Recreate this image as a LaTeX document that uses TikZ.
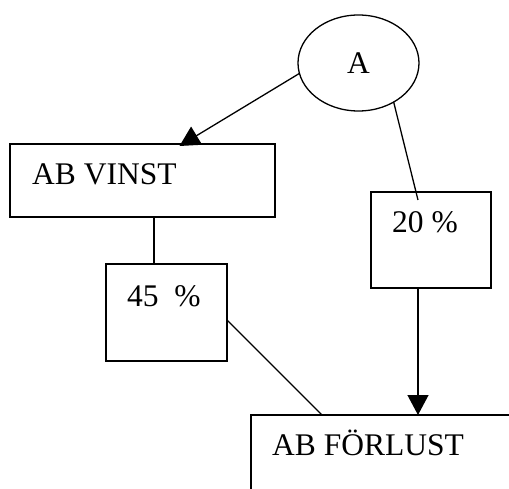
\documentclass[tikz,border=0pt]{standalone}
\usepackage{fontspec}
\setmainfont{Liberation Serif}
\usetikzlibrary{shapes.geometric, arrows.meta}

\tikzset{
  box/.style = {draw, line width = 1.3pt, inner sep = 0, outer sep = 0},
  oval/.style = {draw, ellipse, line width = 1.3pt, inner sep = 0, outer sep = 0,
                 minimum width = 121pt, minimum height = 96pt},
  lbl/.style = {font = \fontsize{31.5}{37}\selectfont, inner sep = 0},
  pil/.style = {line width = 1.3pt, -{Triangle[length = 20pt, width = 21pt]}},
  rak/.style = {line width = 1.3pt}
}

\begin{document}
\begin{tikzpicture}[x = 1pt, y = -1pt]
  \useasboundingbox (0,0) rectangle (509,489);
  \clip (0,0) rectangle (509,489);
  % boxes
  \node [oval, lbl] (a) at (358.5,63) {A};
  \node [box, minimum width = 265pt, minimum height = 73pt] (vinst) at (142.5,180.5) {};
  \node [box, minimum width = 120pt, minimum height = 96pt] (p20) at (431,240) {};
  \node [box, minimum width = 121pt, minimum height = 97pt] (p45) at (166.5,312.5) {};
  \node [box, minimum width = 300pt, minimum height = 120pt] (forlust) at (401,475) {};
  % texts
  \node [lbl, anchor = base west] (tvinst) at ([shift = {(22,41)}]vinst.north west) {AB VINST};
  \node [lbl, anchor = base west] (tp20) at ([shift = {(21,41)}]p20.north west) {20 \%};
  \node [lbl, anchor = base west] (tp45) at ([shift = {(21,42)}]p45.north west) {45~~\%};
  \node [lbl, anchor = base west] (tforlust) at ([shift = {(21,40)}]forlust.north west) {AB FÖRLUST};
  % connectors
  \draw [pil] (a.190) -- ([shift = {(37,2)}]vinst.north);
  \draw [rak] (a.312) -- ([shift = {(-13,8)}]p20.north);
  \draw [rak] ([xshift = 11.5]vinst.south) -- ([xshift = 11.5]vinst.south |- p45.north);
  \draw [rak] ([shift = {(0,7.5)}]p45.east) -- ([shift = {(71,0)}]forlust.north west);
  \draw [pil] ([xshift = -13]p20.south) -- ([xshift = -13]p20.south |- forlust.north);
\end{tikzpicture}
\end{document}
